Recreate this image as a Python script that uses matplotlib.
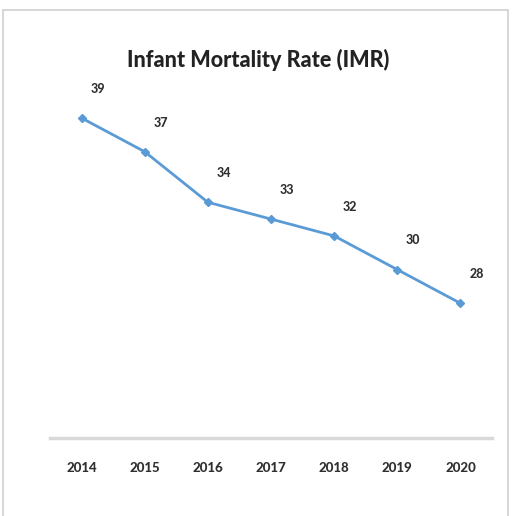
import matplotlib.pyplot as plt
from matplotlib.patches import Rectangle

years = ["2014", "2015", "2016", "2017", "2018", "2019", "2020"]
imr = [39, 37, 34, 33, 32, 30, 28]

plt.rcParams['font.family'] = ['Lato', 'DejaVu Sans']

fig = plt.figure(figsize=(5.15, 5.16), dpi=100)
fig.patch.set_facecolor("white")

# outer chart frame
frame = Rectangle((3 / 515, -0.02), 505 / 515, (516 - 10) / 516 + 0.02,
                  transform=fig.transFigure, facecolor="none",
                  edgecolor="#cfcfcf", linewidth=1.2)
fig.patches.append(frame)

ax = fig.add_axes([50 / 515, (516 - 438) / 516, 442 / 515, 421 / 516])
x = list(range(len(years)))
ax.plot(x, imr, color="#5B9BD5", linewidth=2, marker="D", markersize=4,
        markerfacecolor="#5B9BD5", markeredgecolor="#5B9BD5")

for xi, v in zip(x, imr):
    ax.annotate(str(v), (xi, v), xytext=(11.5, 21), textcoords="offset points",
                ha="center", va="center", fontsize=9, fontweight="black",
                color="#303030")

ax.set_xlim(-0.5, len(years) - 0.5)
ax.set_ylim(20, 45)
ax.set_xticks(x)
ax.set_xticklabels(years, fontsize=9.5, fontweight="black", color="#303030")
ax.tick_params(axis="x", length=0, pad=17)
ax.set_yticks([])
for s in ["top", "right", "left"]:
    ax.spines[s].set_visible(False)
ax.spines["bottom"].set_color("#d9d9d9")
ax.spines["bottom"].set_linewidth(2.5)
ax.patch.set_visible(False)

fig.text(258 / 515, 1 - 60 / 516, "Infant Mortality Rate (IMR)", ha="center",
         va="center", fontsize=15.5, fontweight="black", color="#222222")

fig.savefig("out.png", dpi=100)
